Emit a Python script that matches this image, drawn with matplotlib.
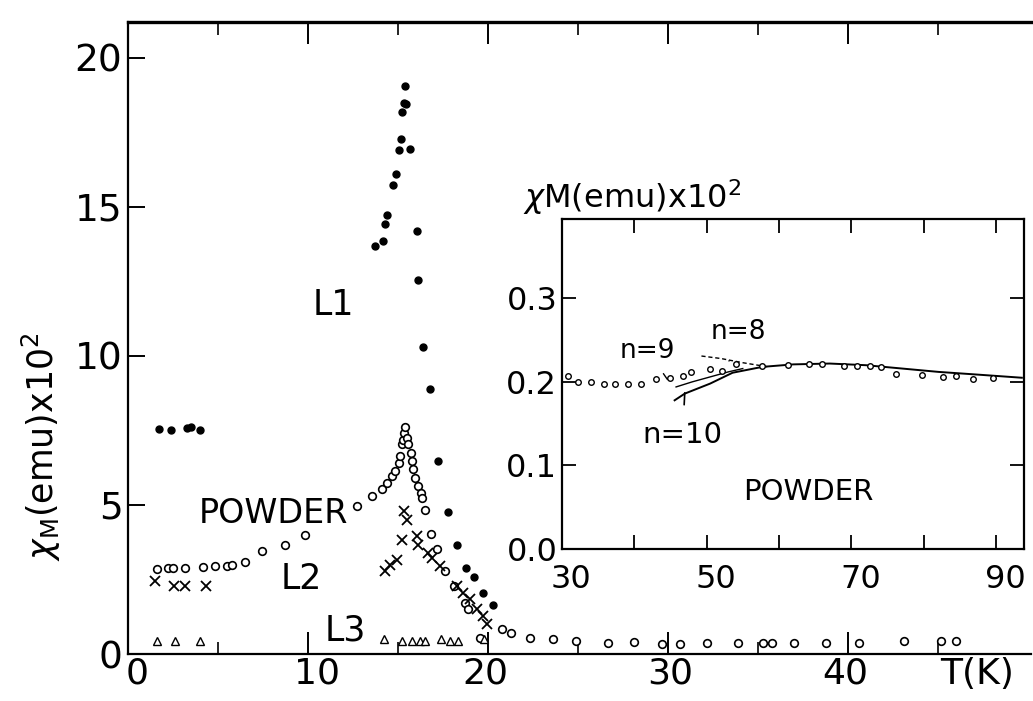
import matplotlib
matplotlib.use("Agg")
import matplotlib.pyplot as plt
from matplotlib.ticker import FixedLocator
from matplotlib.transforms import ScaledTranslation

plt.rcParams["font.family"] = ["DejaVu Sans"]
plt.rcParams["mathtext.fontset"] = "dejavusans"

# ---- main panel data: T (K), chi_M (emu) x 10^2 ----
L1_T = [1.7, 2.4, 3.3, 3.5, 4.0, 13.7, 14.15, 14.3, 14.4, 14.7, 14.9, 15.07, 15.15,
        15.2, 15.33, 15.44, 15.39, 15.67, 16.04, 16.13, 16.4, 16.8, 17.2, 17.76,
        18.3, 18.8, 19.24, 19.74, 20.26]
L1_chi = [7.55, 7.53, 7.58, 7.62, 7.53, 13.69, 13.87, 14.42, 14.73, 15.73, 16.09,
          16.9, 17.26, 18.17, 18.5, 18.44, 19.06, 16.93, 14.19, 12.55, 10.3, 8.9,
          6.47, 4.77, 3.67, 2.89, 2.58, 2.04, 1.66]

POW_T = [1.6, 2.24, 2.52, 3.17, 4.18, 4.83, 5.48, 5.76, 6.5, 7.43, 8.72, 9.83,
         12.7, 13.57, 14.09, 14.37, 14.68, 14.83, 15.07, 15.11, 15.2, 15.3, 15.33, 15.39,
         15.48, 15.57, 15.7, 15.76, 15.85, 15.94, 16.13, 16.26, 16.35, 16.5, 16.83,
         17.18, 17.61, 18.11, 18.72, 18.9, 19.56,
         20.76, 21.3, 22.35, 23.6, 24.9, 26.7, 28.1, 29.7, 30.7, 32.2, 33.9, 35.3,
         35.8, 37.0, 38.8, 40.6, 43.1, 45.2, 46.0]
POW_chi = [2.86, 2.89, 2.89, 2.89, 2.93, 2.95, 2.95, 3.0, 3.08, 3.45, 3.67, 3.98,
           4.96, 5.29, 5.52, 5.74, 5.96, 6.13, 6.41, 6.63, 7.03, 7.19, 7.41, 7.6,
           7.25, 7.03, 6.74, 6.47, 6.19, 5.91, 5.63, 5.4, 5.24, 4.82, 4.01,
           3.51, 2.8, 2.28, 1.72, 1.5, 0.55,
           0.83, 0.71, 0.53, 0.49, 0.44, 0.38, 0.41, 0.35, 0.35, 0.38, 0.38, 0.38,
           0.38, 0.38, 0.38, 0.38, 0.44, 0.44, 0.44]

L2_T = [1.5, 2.56, 3.17, 4.33, 14.28, 14.56, 14.93, 15.2, 15.33, 15.5, 16.04, 16.13,
        16.69, 16.87, 17.33, 18.26, 18.63, 19.0, 19.37, 19.74, 19.93]
L2_chi = [2.45, 2.28, 2.28, 2.28, 2.78, 3.0, 3.17, 3.81, 4.79, 4.5, 3.95, 3.67,
          3.39, 3.23, 2.95, 2.28, 2.05, 1.83, 1.5, 1.27, 1.0]

L3_T = [1.59, 2.61, 4.0, 14.2, 15.2, 15.8, 16.2, 16.5, 17.4, 17.9, 18.35, 19.8]
L3_chi = [0.44, 0.44, 0.44, 0.49, 0.44, 0.44, 0.44, 0.44, 0.49, 0.44, 0.44, 0.49]

# ---- inset data (powder, high temperature) ----
IN_T = [30.9, 32.3, 34.1, 35.9, 37.4, 39.1, 40.9, 43.1, 44.9, 46.7, 47.9, 50.5,
        52.1, 54.1, 57.7, 61.3, 64.1, 65.9, 69.0, 70.8, 72.6, 74.1, 76.1, 79.7,
        82.6, 84.4, 86.7, 89.5]
IN_chi = [0.207, 0.200, 0.200, 0.198, 0.197, 0.197, 0.198, 0.203, 0.205, 0.207,
          0.212, 0.215, 0.213, 0.222, 0.219, 0.220, 0.221, 0.222, 0.219, 0.219,
          0.219, 0.218, 0.209, 0.208, 0.206, 0.207, 0.204, 0.205]

N10_T = [45.6, 47.0, 50.5, 53.6, 57.7, 62.0, 67.0, 72.0, 77.0, 82.0, 87.0, 93.5]
N10_chi = [0.178, 0.186, 0.198, 0.211, 0.218, 0.221, 0.222, 0.220, 0.216, 0.212, 0.209, 0.205]
N9_T = [45.8, 48.0, 50.5, 53.0, 55.0]
N9_chi = [0.194, 0.200, 0.206, 0.212, 0.216]
N8_T = [49.3, 52.0, 55.0, 58.5]
N8_chi = [0.231, 0.228, 0.223, 0.218]

fig = plt.figure(figsize=(10.33, 7.01), dpi=100)

# ---- main axes ----
ax = fig.add_axes([0.1239, 0.067, 0.874, 0.9016])
ax.set_xlim(0, 50.17)
ax.set_ylim(0, 21.2)
ax.spines["right"].set_visible(False)
for s in ("left", "bottom"):
    ax.spines[s].set_linewidth(1.6)
ax.spines["top"].set_linewidth(2.4)

ax.plot(L1_T, L1_chi, "o", color="black", ms=5, mec="black")
ax.plot(POW_T, POW_chi, "o", color="black", mfc="white", ms=5.5, mew=1.2)
ax.plot(L2_T, L2_chi, "x", color="black", ms=7, mew=1.3)
ax.plot(L3_T, L3_chi, "^", color="black", mfc="white", ms=6, mew=1.0)

ax.set_xticks([0, 10, 20, 30, 40])
ax.set_xticklabels(["0", "10", "20", "30", "40"])
ax.xaxis.set_minor_locator(FixedLocator([5, 15, 25, 35, 45]))
ax.set_yticks([0, 5, 10, 15, 20])
ax.tick_params(axis="both", which="major", direction="in", length=16, width=1.4,
               top=True)
ax.tick_params(axis="y", which="major", length=12, labelsize=27, pad=4)
ax.tick_params(axis="x", which="major", labelsize=26, pad=2)
ax.tick_params(axis="x", which="minor", direction="in", length=9, width=1.2, top=True)

# hand-lettered labels do not sit exactly under their ticks
for lab, dx in zip(ax.get_xticklabels(), [9, 9, -3, 2, -3]):
    lab.set_transform(lab.get_transform() + ScaledTranslation(dx / 100, 0, fig.dpi_scale_trans))

ax.text(47.2, -0.004, "T(K)", transform=ax.get_xaxis_transform(),
        ha="center", va="top", fontsize=26)
ax.set_ylabel(r"$\chi_{\rm M}$(emu)x10$^2$", fontsize=25)
ax.yaxis.set_label_coords(-0.072, 0.3275)

ax.text(11.4, 11.7, "L1", fontsize=25, ha="center", va="center")
ax.text(8.07, 4.72, "POWDER", fontsize=24, ha="center", va="center")
ax.text(9.65, 2.51, "L2", fontsize=25, ha="center", va="center")
ax.text(12.1, 0.78, "L3", fontsize=25, ha="center", va="center")

# ---- inset ----
ins = fig.add_axes([0.5436, 0.2168, 0.4477, 0.4708])
ins.set_xlim(30, 93.8)
ins.set_ylim(0, 0.395)
for s in ins.spines.values():
    s.set_linewidth(1.6)

ins.plot(N10_T, N10_chi, "-", color="black", lw=1.4)
ins.plot(N9_T, N9_chi, "-", color="black", lw=1.0)
ins.plot(N8_T, N8_chi, "--", color="black", lw=1.0, dashes=(3, 2))
ins.plot(IN_T, IN_chi, "o", color="black", mfc="white", ms=4, mew=1.0)

ins.set_xticks([30, 40, 50, 60, 70, 80, 90])
ins.set_xticklabels(["30", "", "50", "", "70", "", "90"])
ins.set_yticks([0.0, 0.1, 0.2, 0.3])
ins.set_yticklabels(["0.0", "0.1", "0.2", "0.3"])
ins.tick_params(direction="in", length=10, width=1.3, top=True, right=True,
                labelsize=23)
ins.tick_params(axis="y", pad=3)
ins.tick_params(axis="x", pad=11)
for lab in ins.get_xticklabels():
    lab.set_transform(lab.get_transform() + ScaledTranslation(9 / 100, 0, fig.dpi_scale_trans))

ins.annotate("n=9", xy=(44.6, 0.203), xytext=(41.9, 0.237), fontsize=19,
             ha="center", va="center",
             arrowprops=dict(arrowstyle="-", color="black", lw=1.0, shrinkA=6, shrinkB=0))
ins.annotate("n=8", xy=(53.1, 0.225), xytext=(54.4, 0.260), fontsize=19,
             ha="center", va="center",
             arrowprops=dict(arrowstyle="-", color="black", lw=1.0, shrinkA=10, shrinkB=0))
ins.annotate("n=10", xy=(47.0, 0.187), xytext=(46.7, 0.136), fontsize=21,
             ha="center", va="center",
             arrowprops=dict(arrowstyle="-", color="black", lw=1.2, shrinkA=10, shrinkB=0))
ins.text(64.1, 0.068, "POWDER", fontsize=21, ha="center", va="center")

fig.text(0.506, 0.719, r"$\chi$M(emu)x10$^2$", fontsize=23, ha="left", va="center")

fig.savefig("out.png", dpi=100)
